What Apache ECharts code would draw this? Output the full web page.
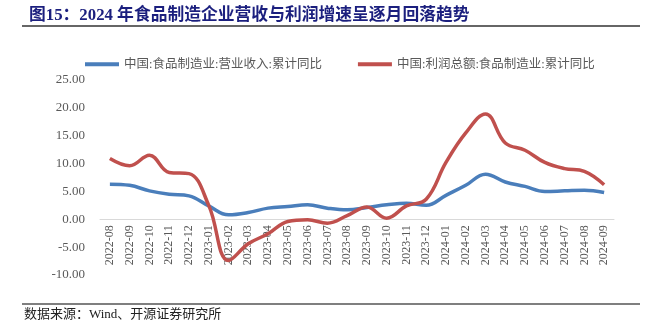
<!DOCTYPE html>
<html><head><meta charset="utf-8">
<script src="https://cdn.jsdelivr.net/npm/echarts@6/dist/echarts.min.js"></script>
<style>html,body{margin:0;padding:0;background:#fff}#c{width:654px;height:326px}</style>
</head><body><div id="c"></div>
<script>
const categories = ['2022-08','2022-09','2022-10','2022-11','2022-12','2023-01','2023-02','2023-03','2023-04','2023-05','2023-06','2023-07','2023-08','2023-09','2023-10','2023-11','2023-12','2024-01','2024-02','2024-03','2024-04','2024-05','2024-06','2024-07','2024-08','2024-09'];
const revenue = [6.3,6.1,5.1,4.5,4.2,2.4,0.8,1.2,2.0,2.3,2.6,2.0,1.7,2.1,2.6,2.9,2.5,4.3,6.1,8.1,6.7,5.9,5.0,5.1,5.2,4.8];
const profit = [10.9,9.6,11.5,8.4,8.2,2.5,-7.4,-4.4,-2.6,-0.4,-0.1,-0.7,0.65,2.2,0.2,2.4,3.6,10.2,15.5,18.9,13.7,12.4,10.2,9.1,8.6,6.2];
const yTicks = {min:-10, max:25, interval:5};
const names = ['中国:食品制造业:营业收入:累计同比','中国:利润总额:食品制造业:累计同比'];

const serif = "'Liberation Serif','Times New Roman','Noto Sans CJK SC',serif";
const cjk = "'Liberation Serif','Noto Sans CJK SC',serif";
const gridTop = 80, gridHeight = 195;
const zeroOffset = -gridHeight * (0 - yTicks.min) / (yTicks.max - yTicks.min);
function withEndLabel(arr, pos, offset){
  return arr.map((v,i)=> i===arr.length-1 ? {value:v,label:{show:true,position:pos,offset:offset,formatter:p=>p.value.toFixed(2),fontFamily:serif,fontSize:14,color:'#404040',distance:2}} : v);
}
const chart = echarts.init(document.getElementById('c'));
chart.setOption({
  animation:false,
  title:{text:'图15：2024 年食品制造企业营收与利润增速呈逐月回落趋势',left:24,top:2,textStyle:{fontFamily:cjk,fontWeight:'bold',fontSize:16.8,color:'#1b1f7e'}},
  graphic:[
    {type:'line',shape:{x1:22,y1:26,x2:640,y2:26},style:{stroke:'#333',lineWidth:1.5}},
    {type:'line',shape:{x1:22,y1:304,x2:640,y2:304},style:{stroke:'#555',lineWidth:1.5}},
    {type:'text',left:24,top:308,style:{text:'数据来源：Wind、开源证券研究所',font:"13px 'Liberation Serif','Noto Sans CJK SC',serif",fill:'#222'}}
  ],
  legend:{top:53,left:80,itemGap:36,itemWidth:34,itemHeight:4,icon:'rect',
    textStyle:{fontFamily:cjk,fontSize:12.5,color:'#595959'},data:names},
  grid:{left:100,right:40,top:gridTop,height:gridHeight,containLabel:false},
  xAxis:{type:'category',data:categories,boundaryGap:true,offset:zeroOffset,
    axisLine:{onZero:false,lineStyle:{color:'#d9d9d9'}},
    axisTick:{length:5,lineStyle:{color:'#d9d9d9'}},
    axisLabel:{rotate:90,fontFamily:serif,fontSize:12,color:'#595959',margin:6,interval:0}},
  yAxis:{type:'value',min:yTicks.min,max:yTicks.max,interval:yTicks.interval,
    splitLine:{show:false},axisLine:{show:false},axisTick:{show:false},
    axisLabel:{fontFamily:serif,fontSize:13,color:'#595959',margin:15,formatter:v=>v.toFixed(2)}},
  series:[
    {name:names[0],type:'line',smooth:0.4,symbol:'none',data:withEndLabel(revenue,'right',[-4,2]),
      lineStyle:{width:3.5,color:'#4a7ebb'},itemStyle:{color:'#4a7ebb'}},
    {name:names[1],type:'line',smooth:0.4,symbol:'none',data:withEndLabel(profit,'right',[-4,-6]),
      lineStyle:{width:3.5,color:'#c0504d'},itemStyle:{color:'#c0504d'}}
  ]
});
</script></body></html>
